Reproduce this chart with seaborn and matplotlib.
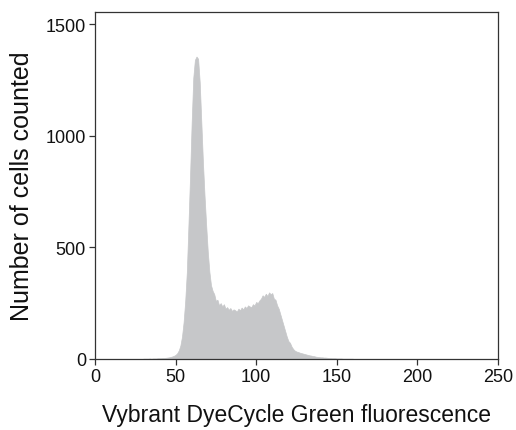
import numpy as np
import pandas as pd
import matplotlib
matplotlib.use("Agg")
import matplotlib.pyplot as plt
import seaborn as sns

# fluorescence channel (1-unit bins) and cell counts
channel = list(range(30, 161))
counts = [
    1, 1, 1, 1, 2, 1, 2, 2, 2, 3,                     # 30-39
    3, 3, 4, 4, 5, 6, 7, 9, 11, 14,                   # 40-49
    18, 25, 38, 60, 100, 165, 260, 390, 600, 820,     # 50-59
    1060, 1260, 1340, 1355, 1345, 1240, 1060, 880, 730, 600,  # 60-69
    480, 390, 330, 305, 290, 260, 265, 240, 250, 235,  # 70-79
    245, 225, 232, 220, 228, 215, 222, 218, 212, 225,  # 80-89
    218, 230, 222, 235, 228, 240, 235, 232, 245, 240,  # 90-99
    255, 250, 262, 270, 285, 278, 292, 282, 298, 290,  # 100-109
    295, 270, 265, 240, 225, 200, 175, 150, 125, 100,  # 110-119
    80, 72, 55, 44, 37, 33, 31, 28, 26, 24,           # 120-129
    22, 20, 18, 16, 15, 13, 12, 10, 9, 8,             # 130-139
    7, 7, 6, 6, 5, 4, 4, 3, 3, 3,                     # 140-149
    2, 2, 2, 2, 1, 1, 1, 1, 1, 1, 1,                  # 150-160
]

df = pd.DataFrame({"channel": channel, "count": counts})

sns.set_style("ticks")
plt.rcParams["font.family"] = ["Liberation Sans", "DejaVu Sans"]

fig = plt.figure(figsize=(5.16, 4.31), dpi=100)
ax = fig.add_axes([0.184, 0.165, 0.781, 0.805])

fill = "#c6c7c9"
sns.histplot(
    data=df,
    x="channel",
    weights="count",
    binwidth=1,
    binrange=(29.5, 160.5),
    element="poly",
    fill=True,
    color=fill,
    alpha=1,
    edgecolor=fill,
    linewidth=0.5,
    ax=ax,
)

ax.set_xlim(0, 250)
ax.set_ylim(0, 1555)
ax.set_xticks([0, 50, 100, 150, 200, 250])
ax.set_yticks([0, 500, 1000, 1500])

for side in ["top", "right", "left", "bottom"]:
    ax.spines[side].set_visible(True)
    ax.spines[side].set_color("#333333")
    ax.spines[side].set_linewidth(0.9)
    ax.spines[side].set_zorder(5)

ax.tick_params(axis="both", labelsize=13, length=4.5, width=0.9,
               color="#333333", labelcolor="#111111", pad=2)

ax.set_xlabel("Vybrant DyeCycle Green fluorescence", fontsize=16.5,
              color="#111111", labelpad=13)
ax.set_ylabel("Number of cells counted", fontsize=18, color="#111111",
              labelpad=8)

plt.savefig("out.png", dpi=100)
